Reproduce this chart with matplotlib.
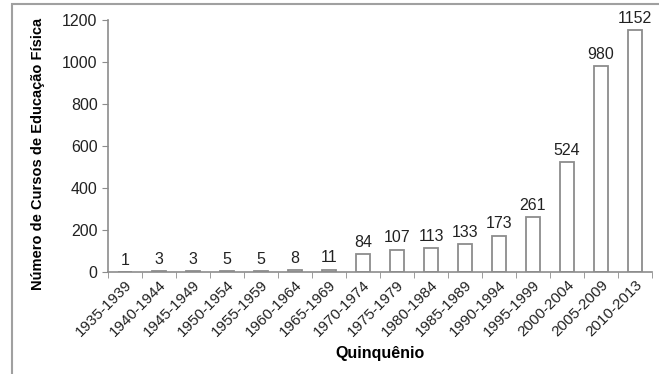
import matplotlib
matplotlib.use('Agg')
import matplotlib.pyplot as plt
from matplotlib.patches import Rectangle

# Data
periods = ['1935-1939', '1940-1944', '1945-1949', '1950-1954', '1955-1959',
           '1960-1964', '1965-1969', '1970-1974', '1975-1979', '1980-1984',
           '1985-1989', '1990-1994', '1995-1999', '2000-2004', '2005-2009',
           '2010-2013']
courses = [1, 3, 3, 5, 5, 8, 11, 84, 107, 113, 133, 173, 261, 524, 980, 1152]

plt.rcParams['font.family'] = ['Liberation Sans', 'DejaVu Sans']
grey = '#8c8c8c'

fig = plt.figure(figsize=(6.59, 3.74), dpi=100)
ax = fig.add_axes([108 / 659, 1 - 272 / 374, 544 / 659, 252 / 374])

# outer frame, cut at right and bottom like the screenshot
fig.patches.append(Rectangle((12 / 659, -0.05), 1.0, 1 - 4 / 374 + 0.05,
                             transform=fig.transFigure, fill=False,
                             edgecolor='#a0a0a0', linewidth=1.5))

x = range(len(periods))
bars = ax.bar(x, courses, width=0.44, color='white', edgecolor=grey, linewidth=1.3)
for xi, v in zip(x, courses):
    ax.text(xi, v + 20, str(v), ha='center', va='bottom', fontsize=11.5, color='#222222')

ax.set_xlim(-0.5, len(periods) - 0.5)
ax.set_ylim(0, 1200)
ax.set_yticks(range(0, 1201, 200))
ax.tick_params(axis='y', labelsize=11.5, colors='#222222', color=grey, length=4, direction='out')

# category labels centred, ticks between categories
ax.set_xticks(list(x))
ax.set_xticklabels(periods, rotation=45, ha='right', rotation_mode='anchor', fontsize=11)
ax.tick_params(axis='x', length=0, pad=4, colors='#222222')
ax.set_xticks([i - 0.5 for i in range(len(periods) + 1)], minor=True)
ax.tick_params(axis='x', which='minor', length=4, color=grey, direction='out')

for s in ['top', 'right']:
    ax.spines[s].set_visible(False)
for s in ['left', 'bottom']:
    ax.spines[s].set_color(grey)
    ax.spines[s].set_linewidth(1.2)

ax.set_xlabel('Quinquênio', fontsize=11.5, fontweight='bold', labelpad=5)
ax.set_ylabel('Número de Cursos de Educação Física', fontsize=10.5, fontweight='bold')
ax.yaxis.set_label_coords(-0.116, 0.47)

fig.savefig('out.png', dpi=100)
